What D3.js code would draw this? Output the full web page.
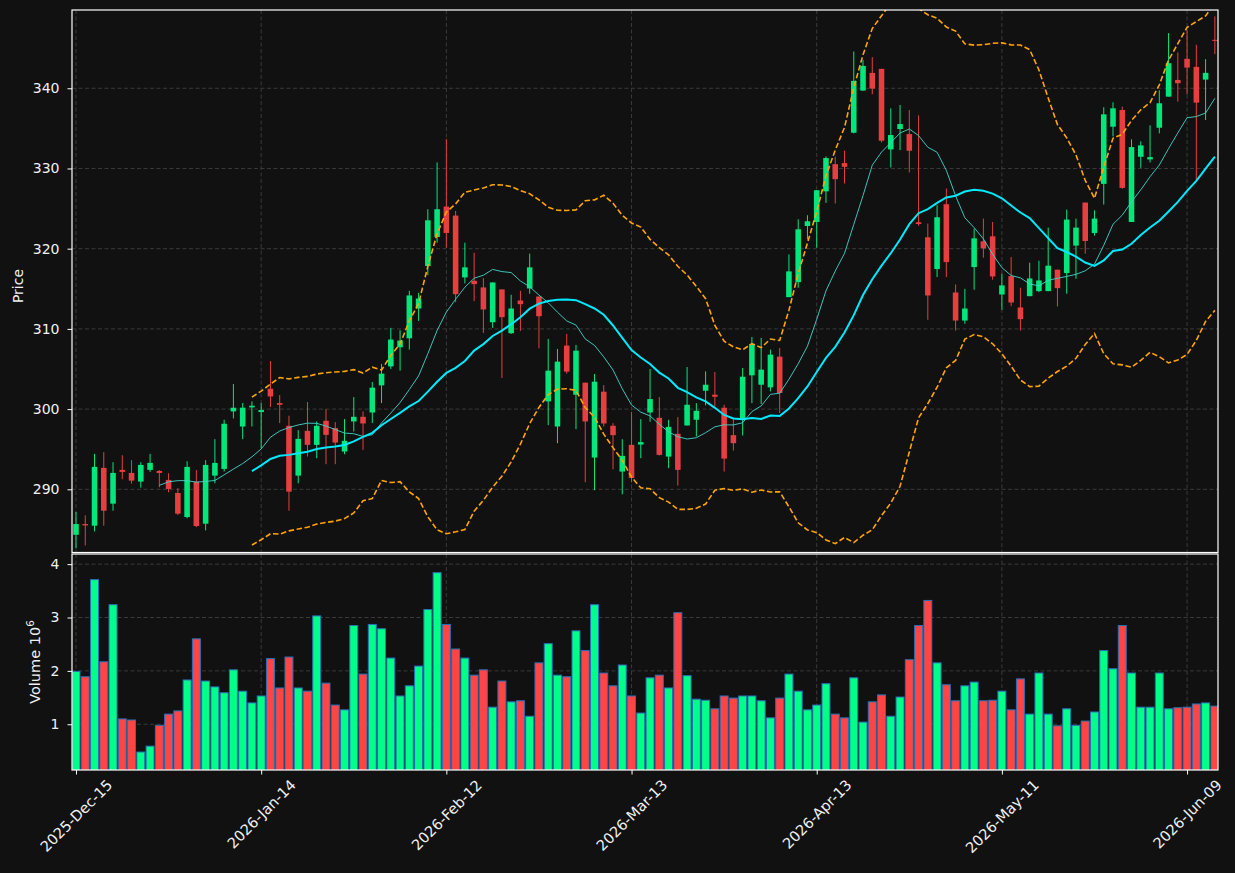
<!DOCTYPE html>
<html><head><meta charset="utf-8">
<script src="https://cdn.jsdelivr.net/npm/d3@7"></script>
<style>body{margin:0;background:#111111;} svg{display:block;}</style>
</head><body><svg id="c" width="1235" height="873"></svg>
<script>
// ---------- data ----------
const startDate = "2025-12-15";
const holidays = ["2025-12-25","2026-01-01","2026-01-19","2026-02-16","2026-04-03","2026-05-25"];
const opens = [284.33,285.67,285.46,292.67,288.21,292.42,292.04,290.96,292.42,292.29,
291.17,289.54,286.54,290.96,285.71,291.71,292.54,299.71,297.83,300.21,
299.63,302.54,300.75,297.92,291.71,297.29,295.54,298.54,297.63,294.71,
298.46,299.04,299.58,302.96,305.33,307.71,308.83,312.54,317.83,321.46,
325.25,324.13,316.42,316.0,315.17,310.83,314.92,309.46,313.54,315.04,
314.04,300.96,297.83,307.92,301.79,303.29,293.96,302.17,297.92,292.21,
295.54,295.58,299.58,298.92,294.08,296.92,297.96,298.67,302.29,301.79,
300.17,296.75,298.75,304.21,303.04,302.71,306.54,313.96,315.83,322.83,
323.33,327.15,330.54,330.67,334.46,339.71,341.92,342.42,332.38,334.92,
334.29,323.29,321.42,317.46,325.54,314.54,311.04,317.71,320.92,321.54,
314.29,316.58,312.67,314.08,314.71,314.71,317.38,316.96,320.38,325.75,
321.96,328.08,335.21,337.29,323.33,331.46,331.13,335.08,338.96,341.04,
343.67,342.67,341.08,346.04];
const highs = [287.17,286.75,294.42,294.63,293.38,294.25,293.63,293.38,294.42,292.4,
292.0,290.13,293.5,292.38,293.63,296.25,298.67,303.13,300.75,300.96,
300.75,306.0,301.75,299.17,297.38,300.88,298.46,300.0,298.38,298.75,
301.5,299.71,303.38,305.63,310.13,309.83,314.75,314.5,324.92,330.75,
333.67,324.71,320.75,319.5,316.33,315.79,314.92,314.25,314.75,319.38,
314.04,308.75,307.5,309.38,308.0,303.29,304.38,303.0,298.25,296.25,
299.63,298.75,305.0,301.5,298.67,299.0,305.25,300.75,304.71,304.63,
300.54,298.88,305.13,309.0,308.88,307.42,307.63,319.29,323.67,324.17,
327.29,331.5,331.46,332.21,344.58,343.54,343.88,342.42,337.5,337.92,
337.29,336.63,323.13,325.42,327.5,315.54,315.0,322.5,323.75,323.33,
316.88,318.96,315.13,318.25,318.5,322.63,317.38,324.88,323.75,325.75,
324.79,337.63,338.25,337.71,333.63,333.38,335.38,339.75,346.88,344.46,
347.21,345.42,343.63,348.96];
const lows = [282.63,283.0,284.75,285.46,287.33,291.25,290.71,290.21,292.17,290.25,
289.63,286.79,286.38,285.29,284.88,290.75,292.21,298.83,296.25,297.83,
295.13,300.25,298.25,287.33,290.75,294.08,293.88,293.13,293.13,294.38,
297.21,294.92,298.25,300.75,305.0,304.79,307.42,311.0,316.71,320.75,
320.13,313.33,315.67,313.46,309.5,310.13,303.88,309.38,309.75,314.38,
307.58,298.0,295.75,304.42,297.5,290.88,289.88,297.83,292.5,289.38,
290.88,293.88,298.42,294.21,292.63,290.46,297.96,296.58,300.46,300.33,
292.21,294.83,296.71,300.75,300.63,302.21,299.5,313.96,315.13,321.17,
320.13,325.7,325.63,328.13,334.38,339.71,339.25,333.25,330.13,332.29,
329.5,322.88,311.13,316.46,316.46,309.79,310.63,314.88,318.88,316.13,
312.38,312.83,309.79,314.08,314.58,314.71,312.79,314.38,316.25,319.38,
321.63,325.5,334.0,327.46,323.33,330.08,330.75,334.38,338.96,338.33,
339.25,328.54,336.04,344.25];
const closes = [285.67,285.5,292.79,287.33,292.04,292.17,291.08,293.04,293.29,292.04,
290.04,286.96,292.79,285.42,293.04,293.29,298.17,300.17,300.17,300.42,
299.88,301.58,300.54,289.71,296.29,295.54,297.92,296.79,295.83,296.04,
299.04,298.21,302.67,304.42,308.67,308.54,314.17,313.79,323.54,324.92,
321.96,314.33,317.67,315.58,312.42,315.79,311.46,312.54,313.08,317.67,
311.58,304.79,305.92,304.67,307.29,298.46,303.42,298.21,296.75,294.17,
291.4,295.88,301.25,294.29,297.79,292.42,300.54,299.79,303.04,301.54,
293.83,295.75,304.04,308.13,304.92,306.79,302.0,317.17,322.42,323.42,
327.29,331.3,328.67,330.21,340.92,342.79,339.96,333.46,334.17,335.54,
332.21,323.08,314.17,323.92,318.33,311.04,312.54,321.29,320.04,316.54,
315.42,313.29,311.21,316.29,316.04,317.88,315.08,323.63,322.63,320.96,
323.75,336.75,337.5,327.58,332.67,332.88,331.42,338.13,343.13,340.63,
342.58,338.21,341.92,345.92];
const volumes = [1.99,1.89,3.71,2.17,3.24,1.10,1.08,0.48,0.59,0.98,
1.19,1.25,1.83,2.60,1.81,1.70,1.59,2.02,1.62,1.40,
1.53,2.23,1.68,2.26,1.68,1.62,3.03,1.77,1.36,1.27,
2.85,1.94,2.87,2.79,2.24,1.53,1.72,2.09,3.15,3.84,
2.87,2.41,2.24,1.92,2.02,1.32,1.81,1.42,1.44,1.15,
2.15,2.51,1.92,1.89,2.75,2.38,3.24,1.96,1.72,2.11,
1.53,1.21,1.87,1.92,1.68,3.09,1.91,1.47,1.45,1.29,
1.53,1.49,1.53,1.53,1.44,1.12,1.49,1.94,1.62,1.27,
1.36,1.76,1.19,1.12,1.87,1.04,1.42,1.55,1.15,1.51,
2.21,2.85,3.32,2.15,1.74,1.44,1.72,1.79,1.44,1.45,
1.62,1.27,1.85,1.19,1.96,1.19,0.97,1.29,0.98,1.06,
1.23,2.38,2.04,2.85,1.96,1.32,1.32,1.96,1.29,1.31,
1.32,1.38,1.40,1.34]; // units of 10^6
const priceTicks = [290,300,310,320,330,340];
const volumeTicks = [1,2,3,4];
const tickEvery = 20;
const maShort = 10, maLong = 20, bbK = 2;

// ---------- build dates (trading days) ----------
const dates = [];
{
  const d = new Date(startDate + "T00:00:00Z");
  while (dates.length < closes.length) {
    const dow = d.getUTCDay(), iso = d.toISOString().slice(0,10);
    if (dow !== 0 && dow !== 6 && !holidays.includes(iso)) dates.push(new Date(d));
    d.setUTCDate(d.getUTCDate() + 1);
  }
}
const fmt = d3.utcFormat("%Y-%b-%d");
const n = closes.length;
const idx = d3.range(n);

// ---------- layout ----------
const L = 72, R = 1218, pTop = 10, pBot = 552.5, vTop = 554, vBot = 770;
const FONT = "DejaVu Sans, sans-serif";
const svg = d3.select("#c");
svg.append("rect").attr("width",1235).attr("height",873).attr("fill","#111111");

const x = d3.scaleLinear().domain([-0.432, 123.34]).range([L, R]);
const yP = d3.scaleLinear().domain([282.12, 349.76]).range([pBot, pTop]);
const yV = d3.scaleLinear().domain([0.143, 4.19]).range([vBot, vTop]);
const step = x(1) - x(0);

const defs = svg.append("defs");
defs.append("clipPath").attr("id","cp").append("rect").attr("x",L).attr("y",pTop).attr("width",R-L).attr("height",pBot-pTop);
defs.append("clipPath").attr("id","cv").append("rect").attr("x",L).attr("y",vTop).attr("width",R-L).attr("height",vBot-vTop);

const gridColor = "#3a3a3a", textColor = "#f0f0f0";
const xt = d3.range(0, n, tickEvery);

// grids
const grid = svg.append("g").attr("stroke", gridColor).attr("stroke-width",1).attr("stroke-dasharray","4,2.5");
grid.selectAll(".gp").data(priceTicks).join("line").attr("class","gp").attr("x1",L).attr("x2",R).attr("y1",d=>yP(d)).attr("y2",d=>yP(d));
grid.selectAll(".gv").data(volumeTicks).join("line").attr("class","gv").attr("x1",L).attr("x2",R).attr("y1",d=>yV(d)).attr("y2",d=>yV(d));
grid.selectAll(".gx1").data(xt).join("line").attr("class","gx1").attr("x1",d=>x(d)).attr("x2",d=>x(d)).attr("y1",pTop).attr("y2",pBot);
grid.selectAll(".gx2").data(xt).join("line").attr("class","gx2").attr("x1",d=>x(d)).attr("x2",d=>x(d)).attr("y1",vTop).attr("y2",vBot);

// candles
const up = "#02e77c", down = "#e73f3f";
const cg = svg.append("g").attr("clip-path","url(#cp)");
const bw = step * 0.6;
cg.selectAll(".wick").data(idx).join("line").attr("class","wick")
  .attr("x1",i=>x(i)).attr("x2",i=>x(i))
  .attr("y1",i=>yP(highs[i])).attr("y2",i=>yP(lows[i]))
  .attr("stroke",i=>closes[i]>=opens[i]?up:down).attr("stroke-width",1);
cg.selectAll(".body").data(idx).join("rect").attr("class","body")
  .attr("x",i=>x(i)-bw/2).attr("width",bw)
  .attr("y",i=>yP(Math.max(opens[i],closes[i])))
  .attr("height",i=>Math.max(1, Math.abs(yP(opens[i])-yP(closes[i]))))
  .attr("fill",i=>closes[i]>=opens[i]?up:down);

// indicators (SMA 10, SMA 20, Bollinger 20 / 2 sigma, population std)
function sma(a,k){ return a.map((_,i)=> i<k-1 ? null : d3.mean(a.slice(i-k+1,i+1))); }
function psd(a,k){ return a.map((_,i)=> i<k-1 ? null : d3.deviation(a.slice(i-k+1,i+1))*Math.sqrt((k-1)/k)); }
const ma10 = sma(closes, maShort), ma20 = sma(closes, maLong), sd20 = psd(closes, maLong);
const bbUp = ma20.map((m,i)=> m==null?null:m+bbK*sd20[i]);
const bbLo = ma20.map((m,i)=> m==null?null:m-bbK*sd20[i]);
const line = arr => d3.line().defined(i=>arr[i]!=null).x(i=>x(i)).y(i=>yP(arr[i]))(idx);
const lg = svg.append("g").attr("clip-path","url(#cp)").attr("fill","none");
lg.append("path").attr("d",line(bbUp)).attr("stroke","#ffa500").attr("stroke-width",1.6).attr("stroke-dasharray","5.5,2.6");
lg.append("path").attr("d",line(bbLo)).attr("stroke","#ffa500").attr("stroke-width",1.6).attr("stroke-dasharray","5.5,2.6");
lg.append("path").attr("d",line(ma10)).attr("stroke","#3fd6cc").attr("stroke-width",1).attr("opacity",0.9);
lg.append("path").attr("d",line(ma20)).attr("stroke","#00eaff").attr("stroke-width",2);

// volume bars
const vg = svg.append("g").attr("clip-path","url(#cv)");
const vw = step * 0.86;
vg.selectAll("rect").data(idx).join("rect")
  .attr("x",i=>x(i)-vw/2).attr("width",vw)
  .attr("y",i=>yV(volumes[i])).attr("height",i=>vBot+2-yV(volumes[i]))
  .attr("fill",i=>closes[i]>=opens[i]?"#00ff88":"#ff4444")
  .attr("stroke","#2a70b8").attr("stroke-width",1);

// frames
svg.append("rect").attr("x",L).attr("y",pTop).attr("width",R-L).attr("height",pBot-pTop).attr("fill","none").attr("stroke","#ffffff").attr("stroke-width",1.2);
svg.append("rect").attr("x",L).attr("y",vTop).attr("width",R-L).attr("height",vBot-vTop).attr("fill","none").attr("stroke","#ffffff").attr("stroke-width",1.2);

// axes
function styleAxis(g){
  g.select(".domain").remove();
  g.selectAll(".tick line").attr("stroke","#ffffff");
  g.selectAll(".tick text").attr("fill",textColor).style("font-family",FONT).style("font-size","14px");
}
svg.append("g").attr("transform",`translate(${L},0)`)
  .call(d3.axisLeft(yP).tickValues(priceTicks).tickFormat(d3.format("d")).tickSize(4.5).tickPadding(8)).call(styleAxis);
svg.append("g").attr("transform",`translate(${L},0)`)
  .call(d3.axisLeft(yV).tickValues(volumeTicks).tickFormat(d3.format("d")).tickSize(4.5).tickPadding(8)).call(styleAxis);
const xa = svg.append("g").attr("transform",`translate(0,${vBot})`)
  .call(d3.axisBottom(x).tickValues(xt).tickSize(4.5).tickFormat(""));
xa.select(".domain").remove();
xa.selectAll(".tick line").attr("stroke","#ffffff");

// rotated x labels (center aligned, like matplotlib rotation=45)
const fs = 14.6;
xt.forEach(i=>{
  const t = svg.append("text").text(fmt(dates[i]))
    .attr("fill",textColor).style("font-family",FONT).style("font-size",fs+"px")
    .attr("text-anchor","middle").attr("dominant-baseline","central");
  const len = t.node().getComputedTextLength();
  const half = (len + fs) * Math.SQRT1_2 / 2;
  t.attr("transform",`translate(${x(i)},${vBot + 7 + half}) rotate(-45)`);
});

// axis labels
svg.append("text").text("Price").attr("fill",textColor)
  .style("font-family",FONT).style("font-size","14px")
  .attr("text-anchor","middle").attr("transform","translate(23,286) rotate(-90)");
const vl = svg.append("text").attr("fill",textColor)
  .style("font-family",FONT).style("font-size","14.5px")
  .attr("text-anchor","middle").attr("transform",`translate(40,${(vTop+vBot)/2}) rotate(-90)`);
vl.append("tspan").text("Volume  10");
vl.append("tspan").text("6").attr("dy",-6).style("font-size","10.5px");
</script></body></html>
